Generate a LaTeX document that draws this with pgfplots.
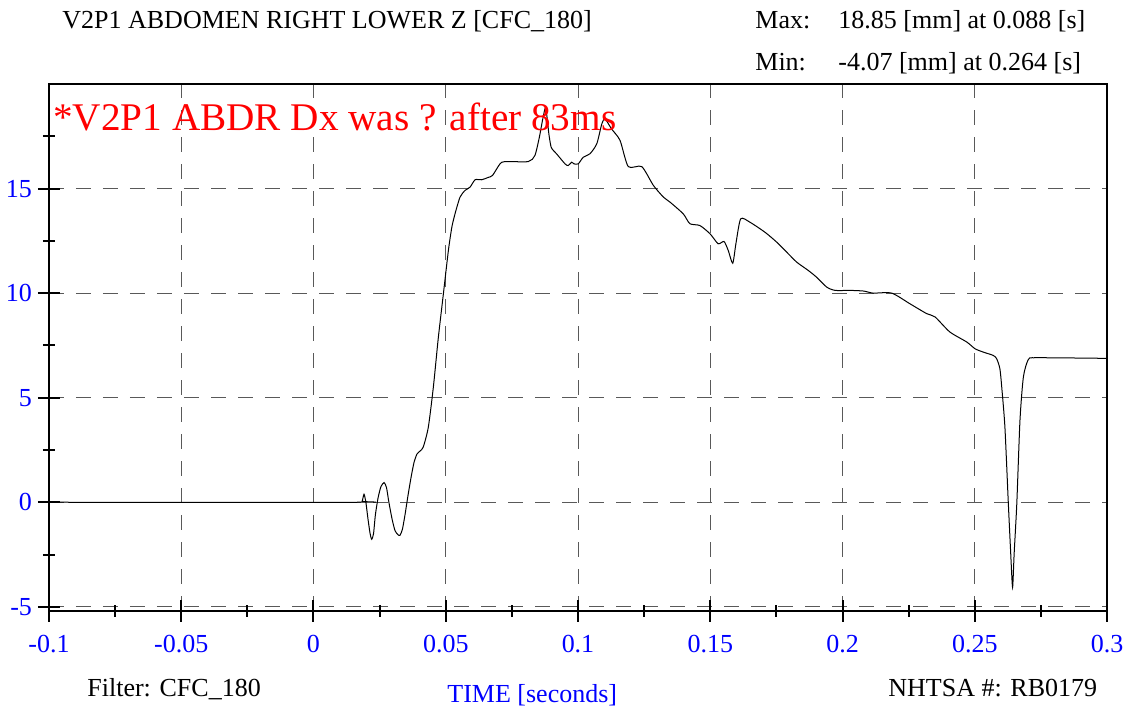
\documentclass[border=0pt]{standalone}
\usepackage{fontspec}
\setmainfont{Liberation Serif}
\usepackage{pgfplots}
\pgfplotsset{compat=1.18}

\pgfplotstableread{
t d
-0.1 0
0.0176 0
0.0184 0.05
0.0191 0.38
0.0198 0.0
0.0206 -0.8
0.0214 -1.5
0.0220 -1.77
0.0227 -1.5
0.0234 -0.6
0.0244 0.2
0.0255 0.75
0.0267 0.94
0.0276 0.7
0.0285 0.0
0.0297 -0.8
0.0308 -1.35
0.0319 -1.55
0.0327 -1.58
0.0336 -1.3
0.0346 -0.6
0.0357 0.3
0.0369 1.2
0.0380 1.9
0.0391 2.3
0.0403 2.45
0.0415 2.64
0.0434 3.58
0.0453 5.49
0.0472 7.88
0.0491 9.96
0.0510 12.04
0.0523 13.15
0.0535 13.79
0.0554 14.59
0.0573 14.91
0.0592 15.07
0.0611 15.42
0.0636 15.42
0.0660 15.53
0.0677 15.63
0.0705 16.18
0.0724 16.29
0.0812 16.29
0.0837 16.58
0.0854 17.46
0.0867 18.34
0.0878 18.85
0.0890 17.6
0.0898 17.0
0.0907 16.82
0.0919 16.66
0.0951 16.18
0.0963 16.10
0.0976 16.26
0.0985 16.18
0.1001 16.18
0.1020 16.50
0.1045 16.66
0.1071 17.14
0.1090 18.09
0.1102 18.33
0.1127 17.85
0.1159 17.30
0.1190 16.05
0.1241 16.05
0.1285 15.15
0.1323 14.59
0.1348 14.35
0.1398 13.79
0.1423 13.32
0.1461 13.23
0.1499 12.84
0.1530 12.36
0.1552 12.47
0.1568 12.04
0.1585 11.43
0.1597 12.36
0.1615 13.55
0.1650 13.39
0.1707 12.91
0.1751 12.44
0.1789 11.96
0.1827 11.48
0.1871 11.08
0.1902 10.76
0.1940 10.29
0.1972 10.13
0.2028 10.13
0.2079 10.10
0.2116 10.00
0.2186 10.00
0.2255 9.49
0.2318 9.02
0.2350 8.86
0.2406 8.14
0.2470 7.66
0.2501 7.34
0.2532 7.18
0.2570 7.02
0.2583 6.86
0.2595 6.39
0.2602 5.51
0.2614 3.60
0.2627 -0.06
0.2636 -2.45
0.2643 -4.07
0.2649 -2.45
0.2659 -0.06
0.2671 3.92
0.2684 6.0
0.2703 6.83
0.2734 6.91
0.3 6.88
}\abdomen

\begin{document}
\begin{tikzpicture}
\useasboundingbox (-24.5pt,-49.5pt) rectangle (541pt,305.5pt);
\begin{axis}[
    at={(0pt,0pt)}, anchor=south west,
    scale only axis,
    width=529pt, height=263.5pt,
    xmin=-0.1, xmax=0.3,
    ymin=-5.2, ymax=20,
    axis line style={line width=1.4pt},
    xtick={-0.1,-0.05,0,0.05,0.1,0.15,0.2,0.25,0.3},
    xticklabels={-0.1,-0.05,0,0.05,0.1,0.15,0.2,0.25,0.3},
    minor xtick={-0.075,-0.025,0.025,0.075,0.125,0.175,0.225,0.275},
    ytick={-5,0,5,10,15},
    yticklabels={-5,0,5,10,15},
    minor ytick={-2.5,2.5,7.5,12.5,17.5},
    xtick pos=left, ytick pos=left,
    tick align=center,
    major tick length=11pt, minor tick length=6pt,
    every tick/.style={black, line width=1pt},
    xmajorgrids, ymajorgrids,
    major grid style={black!65, line width=0.5pt, dash pattern=on 7.5pt off 6pt},
    tick label style={font=\fontsize{13}{15}\selectfont, text=blue},
    xticklabel style={anchor=base, yshift=-15.5pt},
    yticklabel style={anchor=east, xshift=0.5pt},
]
\addplot[black, line width=0.5pt, smooth, tension=0.4] table[x=t, y=d] {\abdomen};
\end{axis}
\begin{scope}[font=\fontsize{13}{15}\selectfont]
\node[anchor=base west, inner sep=0] at (6.5pt,291pt) {V2P1 ABDOMEN RIGHT LOWER Z [CFC\_180]};
\node[anchor=base west, inner sep=0] at (353pt,291pt) {Max:};
\node[anchor=base west, inner sep=0] at (394.5pt,291pt) {18.85 [mm] at 0.088 [s]};
\node[anchor=base west, inner sep=0] at (353pt,270pt) {Min:};
\node[anchor=base west, inner sep=0] at (394.5pt,270pt) {-4.07 [mm] at 0.264 [s]};
\node[anchor=base west, inner sep=0] at (19pt,-43pt) {Filter: CFC\_180};
\node[anchor=base west, inner sep=0, text=blue] at (199pt,-46pt) {TIME [seconds]};
\node[anchor=base west, inner sep=0] at (419.5pt,-43pt) {NHTSA \#: RB0179};
\end{scope}
\node[anchor=base west, inner sep=0, text=red, font=\fontsize{19.6}{24}\selectfont] at (2pt,240pt) {*V2P1 ABDR Dx was ? after 83ms};
\end{tikzpicture}
\end{document}
